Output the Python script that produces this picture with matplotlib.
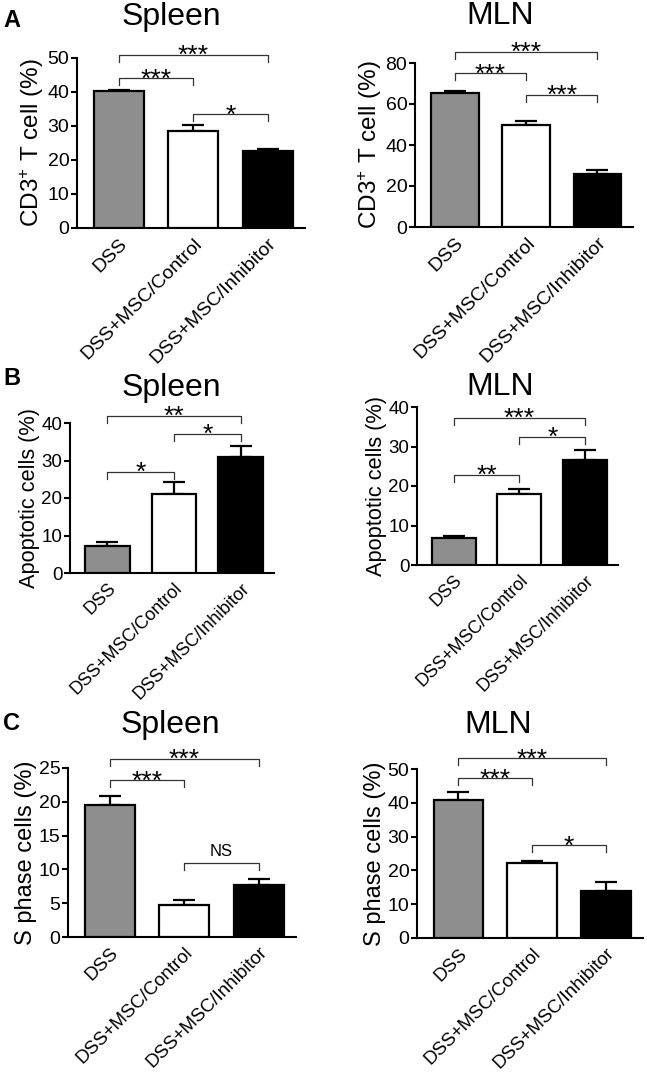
import numpy as np
import matplotlib
matplotlib.use('Agg')
import matplotlib.pyplot as plt
from matplotlib.transforms import ScaledTranslation

plt.rcParams['font.family'] = ['Liberation Sans', 'DejaVu Sans']
plt.rcParams['mathtext.fontset'] = 'custom'
plt.rcParams['mathtext.rm'] = 'Liberation Sans'
plt.rcParams['mathtext.it'] = 'Liberation Sans'

groups = ['DSS', 'DSS+MSC/Control', 'DSS+MSC/Inhibitor']
bar_colors = ['#8e8e8e', 'white', 'black']

# row A: CD3+ T cells
a_spleen_mean = [40.2, 28.6, 22.7]
a_spleen_err = [0.5, 1.7, 0.5]
a_mln_mean = [65.6, 49.8, 25.9]
a_mln_err = [0.7, 2.0, 1.9]
# row B: apoptotic cells
b_spleen_mean = [7.2, 21.0, 31.0]
b_spleen_err = [1.1, 3.2, 3.0]
b_mln_mean = [6.8, 18.1, 26.6]
b_mln_err = [0.6, 1.2, 2.4]
# row C: S phase cells
c_spleen_mean = [19.5, 4.8, 7.7]
c_spleen_err = [1.4, 0.6, 0.9]
c_mln_mean = [40.8, 22.2, 13.8]
c_mln_err = [2.5, 0.7, 2.7]

# significance brackets: (from, to, height, label)
a_spleen_sig = [(0, 1, 44, '***'), (0, 2, 51, '***'), (1, 2, 33.5, '*')]
a_mln_sig = [(0, 1, 75, '***'), (0, 2, 85.4, '***'), (1, 2, 64.4, '***')]
b_spleen_sig = [(0, 1, 27.0, '*'), (0, 2, 41.9, '**'), (1, 2, 37.1, '*')]
b_mln_sig = [(0, 1, 22.8, '**'), (0, 2, 37.3, '***'), (1, 2, 32.5, '*')]
c_spleen_sig = [(0, 1, 23.2, '***'), (0, 2, 26.4, '***'), (1, 2, 10.9, 'NS')]
c_mln_sig = [(0, 1, 47.3, '***'), (0, 2, 53.2, '***'), (1, 2, 27.5, '*')]

a_yticks_spleen = [0, 10, 20, 30, 40, 50]
a_yticks_mln = [0, 20, 40, 60, 80]
b_yticks = [0, 10, 20, 30, 40]
c_yticks_spleen = [0, 5, 10, 15, 20, 25]
c_yticks_mln = [0, 10, 20, 30, 40, 50]

W, H = 647, 1073
fig = plt.figure(figsize=(W / 100, H / 100), dpi=100)


def make_ax(l, t, r, b):
    return fig.add_axes([l / W, 1 - b / H, (r - l) / W, (b - t) / H])


def panel(box, mean, err, sig, yticks, ylabel, tick_fs, lab_fs, x_fs):
    ax = make_ax(*box)
    x = np.arange(len(groups))
    ax.bar(x, mean, width=0.67, color=bar_colors, edgecolor='black',
           linewidth=1.6, zorder=3)
    ax.errorbar(x, mean, yerr=[np.zeros(len(err)), err], fmt='none',
                ecolor='black', elinewidth=1.6, capsize=8, capthick=1.6,
                zorder=2)
    ax.set_xlim(-0.56, 2.5)
    ax.set_ylim(0, yticks[-1])
    ax.set_yticks(yticks)
    ax.set_xticks(x)
    ax.set_xticklabels(groups, rotation=45, ha='right',
                       rotation_mode='anchor', fontsize=x_fs)
    shift = ScaledTranslation(4 / 72, 0, fig.dpi_scale_trans)
    for lab in ax.get_xticklabels():
        lab.set_transform(lab.get_transform() + shift)
    ax.tick_params(axis='x', length=0, pad=5)
    ax.tick_params(axis='y', length=4, width=1.5, pad=1.5,
                   labelsize=tick_fs)
    for s in ['top', 'right']:
        ax.spines[s].set_visible(False)
    for s in ['left', 'bottom']:
        ax.spines[s].set_linewidth(1.5)
    ax.set_ylabel(ylabel, fontsize=lab_fs, labelpad=1)

    # bracket drop of ~7 px
    ax_px = (box[3] - box[1])
    drop = 7 * yticks[-1] / ax_px
    for i, j, y, lab in sig:
        ax.plot([i, i, j, j], [y - drop, y, y, y - drop], color='#333333',
                lw=0.9, clip_on=False)
        if lab == 'NS':
            ax.annotate(lab, ((i + j) / 2, y), xytext=(0, 3),
                        textcoords='offset points', ha='center',
                        va='bottom', fontsize=12, annotation_clip=False)
        else:
            ax.annotate(lab, ((i + j) / 2, y), xytext=(0, -6),
                        textcoords='offset points', ha='center',
                        va='baseline', fontsize=19, annotation_clip=False)
    return ax


cd3_label = r'CD3$^{+}$ T cell (%)'
panel((77, 58, 305, 228), a_spleen_mean, a_spleen_err, a_spleen_sig,
      a_yticks_spleen, cd3_label, 14, 17.5, 14)
panel((415, 63, 633, 227), a_mln_mean, a_mln_err, a_mln_sig,
      a_yticks_mln, cd3_label, 14, 17.5, 14)
panel((70, 423, 274, 573), b_spleen_mean, b_spleen_err, b_spleen_sig,
      b_yticks, 'Apoptotic cells (%)', 13.5, 15.7, 13)
panel((417, 407, 618, 565), b_mln_mean, b_mln_err, b_mln_sig,
      b_yticks, 'Apoptotic cells (%)', 13.5, 15.7, 13)
panel((68, 768, 296, 937), c_spleen_mean, c_spleen_err, c_spleen_sig,
      c_yticks_spleen, 'S phase cells (%)', 14, 17, 13.5)
panel((417, 769, 643, 938), c_mln_mean, c_mln_err, c_mln_sig,
      c_yticks_mln, 'S phase cells (%)', 14, 17, 13.5)

# titles and panel letters
titles = [('Spleen', 171, 25), ('MLN', 500, 24), ('Spleen', 171, 396),
          ('MLN', 500, 395), ('Spleen', 170, 733), ('MLN', 498, 733)]
for t, x, y in titles:
    fig.text(x / W, 1 - y / H, t, fontsize=23, ha='center', va='baseline')
letters = [('A', 3, 27), ('B', 3, 385), ('C', 3, 730)]
for t, x, y in letters:
    fig.text(x / W, 1 - y / H, t, fontsize=17, fontweight='bold',
             ha='left', va='baseline')

fig.savefig('out.png', dpi=100)
